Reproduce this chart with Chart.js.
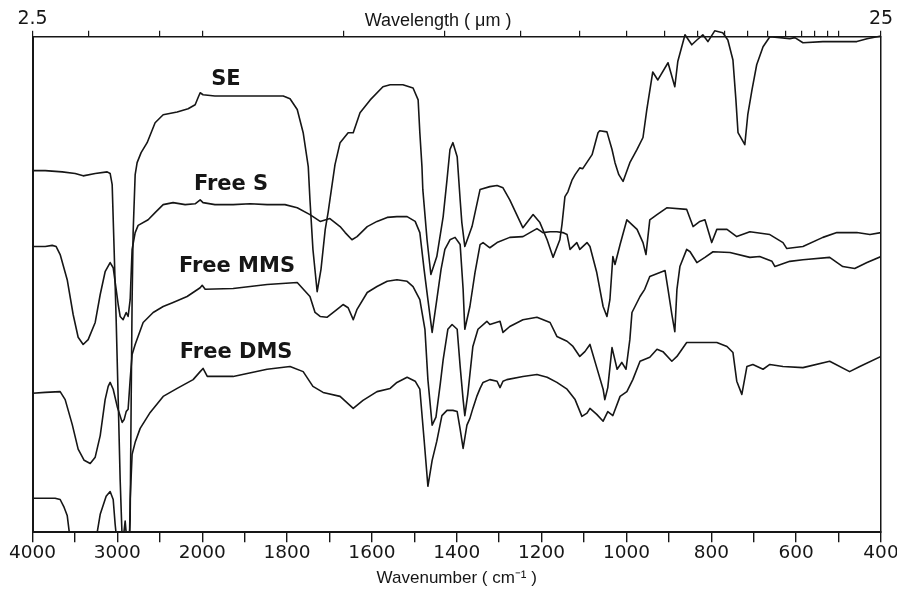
<!DOCTYPE html>
<html>
<head>
<meta charset="utf-8">
<script src="https://cdn.jsdelivr.net/npm/chart.js@4.4.1/dist/chart.umd.min.js"></script>
<style>
  html, body { margin: 0; padding: 0; background: #fff; }
  #wrap { width: 897px; height: 589px; }
</style>
</head>
<body>
<div id="wrap"><canvas id="irChart"></canvas></div>
<script>
// IR spectra: [wavenumber cm-1, relative transmittance]
const seSpectrum = [[4000,90.5],[3850,90.5],[3650,90.2],[3497,89.8],[3403,89.2],[3261,89.8],[3120,90.2],[3085,89.8],[3061,87],[3038,70.8],[3014,53.2],[2990,33.2],[2967,13.2],[2943,-1.8],[2920,-8],[2896,-6.8],[2873,-8.8],[2849,3.2],[2837,33.2],[2826,58.2],[2814,75],[2790,89.5],[2767,92.5],[2720,95],[2649,97.5],[2555,102.5],[2460,104.5],[2295,105.2],[2166,106],[2083,107],[2048,108.8],[2024,110],[1998,109.5],[1970,109.2],[1927,109.2],[1864,109.2],[1809,109.2],[1793,108.5],[1776,105.8],[1762,100],[1750,91.5],[1746,83.2],[1739,70.8],[1729,60.2],[1720,65.8],[1710,75.8],[1703,80.2],[1699,83.2],[1687,92],[1675,97.5],[1656,100],[1644,100],[1628,105],[1604,108.2],[1574,111.5],[1557,112],[1527,112],[1503,111.2],[1491,108.2],[1487,100],[1482,91.5],[1480,85.8],[1470,73.2],[1461,64.5],[1447,69],[1432,79],[1423,88.2],[1416,95.8],[1409,97.5],[1399,94],[1392,83.2],[1388,77.5],[1381,71.5],[1364,76.5],[1345,85.8],[1322,86.5],[1305,86.8],[1291,86.2],[1275,83.2],[1244,76.2],[1220,79.5],[1204,77.5],[1187,73.2],[1173,68.8],[1157,73.2],[1152,77],[1145,84],[1138,85.2],[1128,88.2],[1121,89.5],[1110,91.2],[1103,91],[1081,94.5],[1067,100],[1063,100.5],[1046,100.2],[1034,95.8],[1027,92.5],[1018,89.5],[1008,87.8],[992,92.5],[975,95.8],[961,98.8],[952,105.8],[938,115.2],[926,113.2],[902,117.5],[886,111.5],[879,117.8],[862,124.5],[846,122],[834,123.2],[820,124.5],[808,122.8],[792,125.5],[773,125],[761,123.2],[749,118.2],[742,108.2],[737,100],[721,97],[714,104.5],[704,110.8],[693,117],[678,121.5],[662,124],[638,123.8],[615,123.5],[603,123.8],[584,122.5],[537,122.8],[497,122.8],[457,122.8],[433,123.5],[400,124.2]];

const freeSSpectrum = [[4000,71.5],[3850,71.5],[3768,71.8],[3721,71.5],[3674,69.5],[3591,63.2],[3521,54.5],[3462,48.8],[3403,47],[3344,48.2],[3261,52.5],[3202,59.5],[3144,65.2],[3085,67.5],[3049,66.2],[3014,60.8],[2990,57],[2967,54],[2932,53.2],[2896,55],[2873,54],[2849,58.2],[2826,70.8],[2790,75],[2755,76.8],[2637,78.2],[2555,80],[2460,82],[2343,82.5],[2201,82],[2083,82.2],[2024,83.2],[1998,82.5],[1970,82],[1927,82],[1887,82.2],[1847,82],[1805,82],[1776,81.2],[1746,79.5],[1722,77.8],[1699,78.5],[1675,76.5],[1663,75],[1647,73.2],[1635,74],[1611,76.5],[1588,77.8],[1564,78.8],[1541,79],[1517,79],[1498,77.8],[1487,75],[1477,65.8],[1468,58.2],[1458,50],[1447,58.2],[1437,65.8],[1428,70.8],[1416,73.2],[1404,73.8],[1392,72],[1385,60.8],[1381,50.8],[1369,56.5],[1357,65],[1345,72],[1338,72.5],[1322,71.2],[1305,72.5],[1275,73.8],[1244,74],[1211,76],[1197,75],[1180,75.2],[1164,75.2],[1150,75],[1140,74.5],[1133,70.8],[1117,72.5],[1110,70.8],[1093,72.5],[1086,71.5],[1070,65],[1055,56.5],[1046,54],[1039,58.2],[1032,69],[1027,67],[1015,72],[999,78.2],[975,75.8],[961,72.5],[954,69.5],[945,78.2],[928,79.5],[905,81.2],[858,80.8],[843,76.5],[827,77.8],[815,78.2],[799,72.5],[787,75.8],[763,75.8],[740,74],[709,75.2],[662,74.5],[631,72.5],[622,71],[584,71.5],[537,73.8],[504,75],[457,75],[426,74.5],[400,75]];

const freeMMSSpectrum = [[4000,34.8],[3850,35],[3674,35.2],[3615,33.2],[3532,27],[3462,20.8],[3391,18],[3320,17.2],[3261,18.8],[3202,24.2],[3144,33.2],[3108,36.5],[3085,37.5],[3049,35.8],[3002,31.5],[2943,27.5],[2920,28.2],[2896,30.2],[2873,30.8],[2849,38.2],[2826,44.5],[2790,47],[2696,52.5],[2578,55],[2460,56.5],[2343,57.5],[2178,59],[2024,61.2],[2000,61.8],[1993,60.8],[1927,61],[1847,62],[1776,62.5],[1746,59],[1734,55],[1722,54],[1706,53.8],[1682,55.8],[1668,57],[1656,56.2],[1644,53.2],[1635,55.8],[1611,60],[1588,61.5],[1564,62.8],[1541,63.2],[1517,62.8],[1503,61.5],[1487,58.2],[1475,50.8],[1468,38.2],[1458,26.8],[1449,28.8],[1439,37],[1432,43.2],[1421,50.8],[1411,52],[1399,50.8],[1392,41.5],[1385,33.2],[1381,29.2],[1374,34.5],[1362,46.5],[1350,50.8],[1329,52.8],[1322,52],[1298,52.8],[1291,50],[1275,51.5],[1244,53.2],[1211,53.8],[1180,52.5],[1164,49],[1140,47.8],[1126,46.5],[1110,44],[1098,45.2],[1086,47],[1070,41.2],[1055,35.8],[1051,33.2],[1044,36.2],[1034,46.2],[1022,40.8],[1011,42.5],[1001,40.8],[992,48.2],[987,55],[968,59],[957,60.8],[945,64],[909,65.5],[902,60.8],[893,54.5],[886,50.2],[881,60.8],[874,66.5],[858,70.8],[850,70.2],[834,67.5],[815,68.8],[796,70.2],[756,70],[709,68.8],[686,69],[657,67.8],[650,66.5],[615,67.8],[584,68.2],[521,68.8],[490,66.5],[462,66],[433,67.5],[400,69]];

const freeDMSSpectrum = [[4000,8.5],[3850,8.5],[3733,8.5],[3674,8.2],[3627,6.2],[3591,4.2],[3556,-1.8],[3497,-11.8],[3415,-16.8],[3320,-11.8],[3261,-3],[3202,4.5],[3132,9],[3085,10.2],[3049,8.2],[3026,2],[3002,-3],[2967,-9.2],[2932,-1.8],[2908,2.8],[2884,-3],[2861,-6.8],[2849,8.2],[2826,19.5],[2790,22.5],[2731,26],[2613,30],[2460,34],[2295,36],[2107,38.2],[2024,40.2],[1998,41],[1988,39],[1927,39],[1847,40.8],[1793,41.5],[1762,40.2],[1739,36.5],[1715,35],[1675,34],[1644,31],[1621,33],[1588,35.2],[1557,36],[1541,37.5],[1517,38.8],[1498,37.8],[1487,35.8],[1477,23.2],[1468,11.5],[1458,18],[1447,22.8],[1435,29.2],[1423,30.5],[1409,30.5],[1399,30.2],[1392,25.8],[1385,21],[1376,26.8],[1369,28.5],[1362,31],[1352,34.2],[1345,36],[1338,37.5],[1322,38.2],[1305,37.8],[1298,36.2],[1291,37.8],[1282,38.2],[1244,39],[1211,39.5],[1187,38.8],[1164,37.5],[1140,35.8],[1121,33.2],[1105,29],[1093,29.8],[1086,31],[1070,29.5],[1055,27.8],[1044,30.2],[1032,29.2],[1015,34],[999,35.2],[985,38.2],[968,42.8],[945,43.8],[928,45.8],[914,45.2],[893,42.8],[881,44],[858,47.5],[834,47.5],[787,47.5],[763,46.5],[749,45],[740,37.8],[728,34.5],[716,41.5],[702,42],[678,40.8],[662,42],[631,41.5],[584,41.2],[521,42.8],[474,40.2],[450,41.5],[400,44]];

const curveNames = ['SE', 'Free S', 'Free MMS', 'Free DMS'];

// bottom axis ticks (cm-1) and which of them carry a number
const wavenumberTicks = [4000, 3500, 3000, 2500, 2000, 1900, 1800, 1700, 1600, 1500, 1400, 1300, 1200, 1100, 1000, 900, 800, 700, 600, 500, 400];
const wavenumberLabels = [4000, 3000, 2000, 1800, 1600, 1400, 1200, 1000, 800, 600, 400];

// top axis ticks (micrometres)
const wavelengthTicks = [2.5, 3, 4, 5, 6, 7, 8, 9, 10, 11, 12, 13, 14, 15, 16, 17, 18, 19, 20, 25];
const wavelengthLabels = [2.5, 25];

// the paper is 5x expanded below 2000 cm-1
function paperX(w) {
    return w >= 2000 ? (4000 - w) / 5 : 400 + (2000 - w);
}

function toPoints(spectrum) {
    return spectrum.map(p => ({ x: paperX(p[0]), y: p[1] }));
}

// keep the end labels from pushing the frame inwards
function noEdgePadding(scale) {
    scale.paddingLeft = 0;
    scale.paddingRight = 0;
}

const ink = '#161616';

const labelPlugin = {
    id: 'spectrumText',
    afterDraw(chart) {
        const { ctx, scales } = chart;
        const x = scales.x, y = scales.y;
        // where each curve name sits, in wavenumber / transmittance
        const spots = [[1944, 113.2], [1932, 87], [1918, 66.5], [1920, 45]];
        ctx.save();
        ctx.fillStyle = ink;
        ctx.textAlign = 'center';
        ctx.textBaseline = 'middle';
        ctx.font = 'bold 21px "DejaVu Sans"';
        curveNames.forEach((name, i) => {
            ctx.fillText(name, x.getPixelForValue(paperX(spots[i][0])), y.getPixelForValue(spots[i][1]));
        });
        ctx.font = '18px "Liberation Sans"';
        ctx.fillText('Wavelength ( \u03BCm )', x.getPixelForValue(paperX(1444)), 21);
        ctx.restore();
    }
};

const lineStyle = {
    borderColor: ink,
    borderWidth: 1.6,
    pointRadius: 0,
    tension: 0,
    fill: false,
    borderJoinStyle: 'round'
};

const ctx = document.getElementById('irChart').getContext('2d');

new Chart(ctx, {
    type: 'line',
    data: {
        datasets: [
            Object.assign({ label: curveNames[0], data: toPoints(seSpectrum), clip: { left: 0, top: 12, right: 0, bottom: 0 } }, lineStyle),
            Object.assign({ label: curveNames[1], data: toPoints(freeSSpectrum) }, lineStyle),
            Object.assign({ label: curveNames[2], data: toPoints(freeMMSSpectrum) }, lineStyle),
            Object.assign({ label: curveNames[3], data: toPoints(freeDMSSpectrum) }, lineStyle)
        ]
    },
    options: {
        responsive: true,
        maintainAspectRatio: false,
        animation: false,
        layout: { padding: { left: 32.5, right: 16, top: 8, bottom: 0 } },
        plugins: {
            legend: { display: false },
            tooltip: { enabled: false }
        },
        scales: {
            x: {
                type: 'linear',
                position: 'bottom',
                min: 0,
                max: 2000,
                afterBuildTicks: scale => {
                    scale.ticks = wavenumberTicks.map(w => ({ value: paperX(w) }));
                },
                afterFit: noEdgePadding,
                ticks: {
                    autoSkip: false,
                    maxRotation: 0,
                    padding: 1,
                    color: ink,
                    font: { family: '"DejaVu Sans"', size: 18.5, lineHeight: 1.1 },
                    callback: (value, index) => {
                        const w = wavenumberTicks[index];
                        return wavenumberLabels.includes(w) ? String(w) : '';
                    }
                },
                grid: { drawOnChartArea: false, drawTicks: true, tickLength: 10, color: ink, lineWidth: 1.4 },
                border: { display: true, color: ink, width: 2 },
                title: {
                    display: true,
                    text: 'Wavenumber ( cm\u207B\u00B9 )',
                    color: ink,
                    font: { family: '"Liberation Sans"', size: 17 },
                    padding: { top: 4, bottom: 0 }
                }
            },
            x2: {
                type: 'linear',
                position: 'top',
                min: 0,
                max: 2000,
                afterBuildTicks: scale => {
                    scale.ticks = wavelengthTicks.map(um => ({ value: paperX(10000 / um) }));
                },
                afterFit: noEdgePadding,
                ticks: {
                    autoSkip: false,
                    maxRotation: 0,
                    padding: 0,
                    color: ink,
                    font: { family: '"DejaVu Sans"', size: 19 },
                    callback: (value, index) => {
                        const um = wavelengthTicks[index];
                        return wavelengthLabels.includes(um) ? String(um) : '';
                    }
                },
                grid: { drawOnChartArea: false, drawTicks: true, tickLength: 6, color: ink, lineWidth: 1.2 },
                border: { display: true, color: ink, width: 1.5 }
            },
            y: {
                type: 'linear',
                position: 'left',
                min: 0,
                max: 124,
                ticks: { display: false },
                grid: { display: false, drawTicks: false },
                border: { display: true, color: ink, width: 2 }
            },
            y2: {
                type: 'linear',
                position: 'right',
                min: 0,
                max: 124,
                ticks: { display: false },
                grid: { display: false, drawTicks: false },
                border: { display: true, color: ink, width: 1.5 }
            }
        }
    },
    plugins: [labelPlugin]
});
</script>
</body>
</html>
